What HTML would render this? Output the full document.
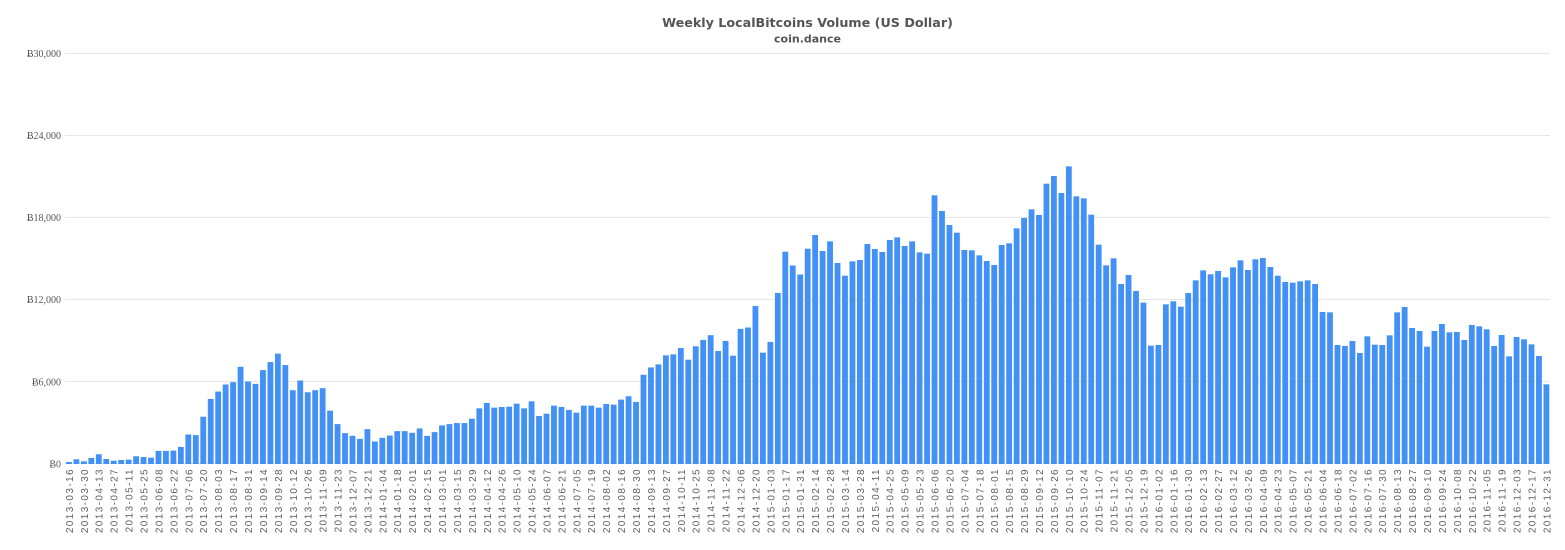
<!DOCTYPE html>
<html>
<head>
<meta charset="utf-8">
<style>
html,body{margin:0;padding:0;background:#fff;}
svg{display:block;}
.yl{font-family:"Liberation Serif","DejaVu Serif",serif;font-size:10px;fill:#555;}
.xl{font-family:"Liberation Sans","DejaVu Sans",sans-serif;font-size:10px;fill:#606060;letter-spacing:1.4px;}
</style>
</head>
<body>
<svg width="1565" height="550" viewBox="0 0 1565 550" xmlns="http://www.w3.org/2000/svg">
<rect width="1565" height="550" fill="#fff"/>
<text x="807.5" y="27" text-anchor="middle" font-family="DejaVu Sans, Verdana, sans-serif" font-weight="bold" font-size="12.7" fill="#555">Weekly LocalBitcoins Volume (US Dollar)</text>
<text x="807.5" y="42.3" text-anchor="middle" font-family="DejaVu Sans, Verdana, sans-serif" font-weight="bold" font-size="11" fill="#555">coin.dance</text>
<g stroke="#e6e6e6" stroke-width="1">
<line x1="65" y1="53.5" x2="1550" y2="53.5"/>
<line x1="65" y1="135.5" x2="1550" y2="135.5"/>
<line x1="65" y1="217.5" x2="1550" y2="217.5"/>
<line x1="65" y1="299.5" x2="1550" y2="299.5"/>
<line x1="65" y1="381.5" x2="1550" y2="381.5"/>
<line x1="65" y1="463.5" x2="1550" y2="463.5"/>
</g>
<g class="yl" text-anchor="end">
<text x="61" y="57">Ƀ30,000</text>
<text x="61" y="139">Ƀ24,000</text>
<text x="61" y="221">Ƀ18,000</text>
<text x="61" y="303">Ƀ12,000</text>
<text x="61" y="385.5">Ƀ6,000</text>
<text x="61" y="467.5">Ƀ0</text>
</g>
<g transform="translate(65.2,464) scale(7.462,-0.0137)" fill="#4391f4">
<rect x="0.11" width="0.78" height="147"/>
<rect x="1.11" width="0.78" height="343"/>
<rect x="2.11" width="0.78" height="196"/>
<rect x="3.11" width="0.78" height="441"/>
<rect x="4.11" width="0.78" height="710"/>
<rect x="5.11" width="0.78" height="367"/>
<rect x="6.11" width="0.78" height="245"/>
<rect x="7.11" width="0.78" height="294"/>
<rect x="8.11" width="0.78" height="318"/>
<rect x="9.11" width="0.78" height="563"/>
<rect x="10.11" width="0.78" height="514"/>
<rect x="11.11" width="0.78" height="465"/>
<rect x="12.11" width="0.78" height="955"/>
<rect x="13.11" width="0.78" height="955"/>
<rect x="14.11" width="0.78" height="979"/>
<rect x="15.11" width="0.78" height="1248"/>
<rect x="16.11" width="0.78" height="2154"/>
<rect x="17.11" width="0.78" height="2105"/>
<rect x="18.11" width="0.78" height="3452"/>
<rect x="19.11" width="0.78" height="4749"/>
<rect x="20.11" width="0.78" height="5288"/>
<rect x="21.11" width="0.78" height="5802"/>
<rect x="22.11" width="0.78" height="5973"/>
<rect x="23.11" width="0.78" height="7099"/>
<rect x="24.11" width="0.78" height="6022"/>
<rect x="25.11" width="0.78" height="5851"/>
<rect x="26.11" width="0.78" height="6854"/>
<rect x="27.11" width="0.78" height="7442"/>
<rect x="28.11" width="0.78" height="8054"/>
<rect x="29.11" width="0.78" height="7222"/>
<rect x="30.11" width="0.78" height="5386"/>
<rect x="31.11" width="0.78" height="6095"/>
<rect x="32.11" width="0.78" height="5239"/>
<rect x="33.11" width="0.78" height="5386"/>
<rect x="34.11" width="0.78" height="5533"/>
<rect x="35.11" width="0.78" height="3892"/>
<rect x="36.11" width="0.78" height="2913"/>
<rect x="37.11" width="0.78" height="2252"/>
<rect x="38.11" width="0.78" height="2056"/>
<rect x="39.11" width="0.78" height="1836"/>
<rect x="40.11" width="0.78" height="2546"/>
<rect x="41.11" width="0.78" height="1640"/>
<rect x="42.11" width="0.78" height="1909"/>
<rect x="43.11" width="0.78" height="2081"/>
<rect x="44.11" width="0.78" height="2399"/>
<rect x="45.11" width="0.78" height="2399"/>
<rect x="46.11" width="0.78" height="2277"/>
<rect x="47.11" width="0.78" height="2595"/>
<rect x="48.11" width="0.78" height="2056"/>
<rect x="49.11" width="0.78" height="2326"/>
<rect x="50.11" width="0.78" height="2815"/>
<rect x="51.11" width="0.78" height="2913"/>
<rect x="52.11" width="0.78" height="2987"/>
<rect x="53.11" width="0.78" height="2987"/>
<rect x="54.11" width="0.78" height="3305"/>
<rect x="55.11" width="0.78" height="4064"/>
<rect x="56.11" width="0.78" height="4455"/>
<rect x="57.11" width="0.78" height="4113"/>
<rect x="58.11" width="0.78" height="4162"/>
<rect x="59.11" width="0.78" height="4186"/>
<rect x="60.11" width="0.78" height="4406"/>
<rect x="61.11" width="0.78" height="4064"/>
<rect x="62.11" width="0.78" height="4578"/>
<rect x="63.11" width="0.78" height="3501"/>
<rect x="64.11" width="0.78" height="3672"/>
<rect x="65.11" width="0.78" height="4260"/>
<rect x="66.11" width="0.78" height="4162"/>
<rect x="67.11" width="0.78" height="3941"/>
<rect x="68.11" width="0.78" height="3745"/>
<rect x="69.11" width="0.78" height="4260"/>
<rect x="70.11" width="0.78" height="4260"/>
<rect x="71.11" width="0.78" height="4113"/>
<rect x="72.11" width="0.78" height="4382"/>
<rect x="73.11" width="0.78" height="4333"/>
<rect x="74.11" width="0.78" height="4700"/>
<rect x="75.11" width="0.78" height="4945"/>
<rect x="76.11" width="0.78" height="4529"/>
<rect x="77.11" width="0.78" height="6512"/>
<rect x="78.11" width="0.78" height="7050"/>
<rect x="79.11" width="0.78" height="7271"/>
<rect x="80.11" width="0.78" height="7932"/>
<rect x="81.11" width="0.78" height="8005"/>
<rect x="82.11" width="0.78" height="8470"/>
<rect x="83.11" width="0.78" height="7613"/>
<rect x="84.11" width="0.78" height="8592"/>
<rect x="85.11" width="0.78" height="9058"/>
<rect x="86.11" width="0.78" height="9400"/>
<rect x="87.11" width="0.78" height="8250"/>
<rect x="88.11" width="0.78" height="8984"/>
<rect x="89.11" width="0.78" height="7907"/>
<rect x="90.11" width="0.78" height="9865"/>
<rect x="91.11" width="0.78" height="9963"/>
<rect x="92.11" width="0.78" height="11530"/>
<rect x="93.11" width="0.78" height="8127"/>
<rect x="94.11" width="0.78" height="8911"/>
<rect x="95.11" width="0.78" height="12485"/>
<rect x="96.11" width="0.78" height="15496"/>
<rect x="97.11" width="0.78" height="14492"/>
<rect x="98.11" width="0.78" height="13831"/>
<rect x="99.11" width="0.78" height="15716"/>
<rect x="100.11" width="0.78" height="16714"/>
<rect x="101.11" width="0.78" height="15547"/>
<rect x="102.11" width="0.78" height="16252"/>
<rect x="103.11" width="0.78" height="14671"/>
<rect x="104.11" width="0.78" height="13746"/>
<rect x="105.11" width="0.78" height="14792"/>
<rect x="106.11" width="0.78" height="14890"/>
<rect x="107.11" width="0.78" height="16058"/>
<rect x="108.11" width="0.78" height="15693"/>
<rect x="109.11" width="0.78" height="15474"/>
<rect x="110.11" width="0.78" height="16350"/>
<rect x="111.11" width="0.78" height="16544"/>
<rect x="112.11" width="0.78" height="15912"/>
<rect x="113.11" width="0.78" height="16252"/>
<rect x="114.11" width="0.78" height="15450"/>
<rect x="115.11" width="0.78" height="15353"/>
<rect x="116.11" width="0.78" height="19610"/>
<rect x="117.11" width="0.78" height="18466"/>
<rect x="118.11" width="0.78" height="17445"/>
<rect x="119.11" width="0.78" height="16885"/>
<rect x="120.11" width="0.78" height="15620"/>
<rect x="121.11" width="0.78" height="15596"/>
<rect x="122.11" width="0.78" height="15231"/>
<rect x="123.11" width="0.78" height="14817"/>
<rect x="124.11" width="0.78" height="14525"/>
<rect x="125.11" width="0.78" height="15985"/>
<rect x="126.11" width="0.78" height="16107"/>
<rect x="127.11" width="0.78" height="17201"/>
<rect x="128.11" width="0.78" height="17956"/>
<rect x="129.11" width="0.78" height="18588"/>
<rect x="130.11" width="0.78" height="18174"/>
<rect x="131.11" width="0.78" height="20461"/>
<rect x="132.11" width="0.78" height="21021"/>
<rect x="133.11" width="0.78" height="19780"/>
<rect x="134.11" width="0.78" height="21727"/>
<rect x="135.11" width="0.78" height="19537"/>
<rect x="136.11" width="0.78" height="19391"/>
<rect x="137.11" width="0.78" height="18199"/>
<rect x="138.11" width="0.78" height="16009"/>
<rect x="139.11" width="0.78" height="14501"/>
<rect x="140.11" width="0.78" height="15012"/>
<rect x="141.11" width="0.78" height="13138"/>
<rect x="142.11" width="0.78" height="13795"/>
<rect x="143.11" width="0.78" height="12627"/>
<rect x="144.11" width="0.78" height="11776"/>
<rect x="145.11" width="0.78" height="8637"/>
<rect x="146.11" width="0.78" height="8686"/>
<rect x="147.11" width="0.78" height="11654"/>
<rect x="148.11" width="0.78" height="11873"/>
<rect x="149.11" width="0.78" height="11484"/>
<rect x="150.11" width="0.78" height="12481"/>
<rect x="151.11" width="0.78" height="13406"/>
<rect x="152.11" width="0.78" height="14136"/>
<rect x="153.11" width="0.78" height="13844"/>
<rect x="154.11" width="0.78" height="14087"/>
<rect x="155.11" width="0.78" height="13625"/>
<rect x="156.11" width="0.78" height="14355"/>
<rect x="157.11" width="0.78" height="14866"/>
<rect x="158.11" width="0.78" height="14160"/>
<rect x="159.11" width="0.78" height="14939"/>
<rect x="160.11" width="0.78" height="15036"/>
<rect x="161.11" width="0.78" height="14379"/>
<rect x="162.11" width="0.78" height="13746"/>
<rect x="163.11" width="0.78" height="13284"/>
<rect x="164.11" width="0.78" height="13236"/>
<rect x="165.11" width="0.78" height="13333"/>
<rect x="166.11" width="0.78" height="13406"/>
<rect x="167.11" width="0.78" height="13138"/>
<rect x="168.11" width="0.78" height="11094"/>
<rect x="169.11" width="0.78" height="11070"/>
<rect x="170.11" width="0.78" height="8686"/>
<rect x="171.11" width="0.78" height="8613"/>
<rect x="172.11" width="0.78" height="8978"/>
<rect x="173.11" width="0.78" height="8102"/>
<rect x="174.11" width="0.78" height="9318"/>
<rect x="175.11" width="0.78" height="8710"/>
<rect x="176.11" width="0.78" height="8686"/>
<rect x="177.11" width="0.78" height="9391"/>
<rect x="178.11" width="0.78" height="11070"/>
<rect x="179.11" width="0.78" height="11460"/>
<rect x="180.11" width="0.78" height="9927"/>
<rect x="181.11" width="0.78" height="9708"/>
<rect x="182.11" width="0.78" height="8564"/>
<rect x="183.11" width="0.78" height="9708"/>
<rect x="184.11" width="0.78" height="10219"/>
<rect x="185.11" width="0.78" height="9611"/>
<rect x="186.11" width="0.78" height="9635"/>
<rect x="187.11" width="0.78" height="9051"/>
<rect x="188.11" width="0.78" height="10146"/>
<rect x="189.11" width="0.78" height="10048"/>
<rect x="190.11" width="0.78" height="9829"/>
<rect x="191.11" width="0.78" height="8613"/>
<rect x="192.11" width="0.78" height="9416"/>
<rect x="193.11" width="0.78" height="7859"/>
<rect x="194.11" width="0.78" height="9270"/>
<rect x="195.11" width="0.78" height="9100"/>
<rect x="196.11" width="0.78" height="8735"/>
<rect x="197.11" width="0.78" height="7883"/>
<rect x="198.11" width="0.78" height="5815"/>
</g>
<g class="xl" transform="rotate(-90)" text-anchor="end">
<text x="-468" y="72.9">2013-03-16</text>
<text x="-468" y="87.8">2013-03-30</text>
<text x="-468" y="102.7">2013-04-13</text>
<text x="-468" y="117.7">2013-04-27</text>
<text x="-468" y="132.6">2013-05-11</text>
<text x="-468" y="147.5">2013-05-25</text>
<text x="-468" y="162.4">2013-06-08</text>
<text x="-468" y="177.4">2013-06-22</text>
<text x="-468" y="192.3">2013-07-06</text>
<text x="-468" y="207.2">2013-07-20</text>
<text x="-468" y="222.1">2013-08-03</text>
<text x="-468" y="237.1">2013-08-17</text>
<text x="-468" y="252.0">2013-08-31</text>
<text x="-468" y="266.9">2013-09-14</text>
<text x="-468" y="281.8">2013-09-28</text>
<text x="-468" y="296.8">2013-10-12</text>
<text x="-468" y="311.7">2013-10-26</text>
<text x="-468" y="326.6">2013-11-09</text>
<text x="-468" y="341.5">2013-11-23</text>
<text x="-468" y="356.5">2013-12-07</text>
<text x="-468" y="371.4">2013-12-21</text>
<text x="-468" y="386.3">2014-01-04</text>
<text x="-468" y="401.2">2014-01-18</text>
<text x="-468" y="416.2">2014-02-01</text>
<text x="-468" y="431.1">2014-02-15</text>
<text x="-468" y="446.0">2014-03-01</text>
<text x="-468" y="460.9">2014-03-15</text>
<text x="-468" y="475.8">2014-03-29</text>
<text x="-468" y="490.8">2014-04-12</text>
<text x="-468" y="505.7">2014-04-26</text>
<text x="-468" y="520.6">2014-05-10</text>
<text x="-468" y="535.5">2014-05-24</text>
<text x="-468" y="550.5">2014-06-07</text>
<text x="-468" y="565.4">2014-06-21</text>
<text x="-468" y="580.3">2014-07-05</text>
<text x="-468" y="595.2">2014-07-19</text>
<text x="-468" y="610.2">2014-08-02</text>
<text x="-468" y="625.1">2014-08-16</text>
<text x="-468" y="640.0">2014-08-30</text>
<text x="-468" y="654.9">2014-09-13</text>
<text x="-468" y="669.9">2014-09-27</text>
<text x="-468" y="684.8">2014-10-11</text>
<text x="-468" y="699.7">2014-10-25</text>
<text x="-468" y="714.6">2014-11-08</text>
<text x="-468" y="729.6">2014-11-22</text>
<text x="-468" y="744.5">2014-12-06</text>
<text x="-468" y="759.4">2014-12-20</text>
<text x="-468" y="774.3">2015-01-03</text>
<text x="-468" y="789.3">2015-01-17</text>
<text x="-468" y="804.2">2015-01-31</text>
<text x="-468" y="819.1">2015-02-14</text>
<text x="-468" y="834.0">2015-02-28</text>
<text x="-468" y="848.9">2015-03-14</text>
<text x="-468" y="863.9">2015-03-28</text>
<text x="-468" y="878.8">2015-04-11</text>
<text x="-468" y="893.7">2015-04-25</text>
<text x="-468" y="908.6">2015-05-09</text>
<text x="-468" y="923.6">2015-05-23</text>
<text x="-468" y="938.5">2015-06-06</text>
<text x="-468" y="953.4">2015-06-20</text>
<text x="-468" y="968.3">2015-07-04</text>
<text x="-468" y="983.3">2015-07-18</text>
<text x="-468" y="998.2">2015-08-01</text>
<text x="-468" y="1013.1">2015-08-15</text>
<text x="-468" y="1028.0">2015-08-29</text>
<text x="-468" y="1043.0">2015-09-12</text>
<text x="-468" y="1057.9">2015-09-26</text>
<text x="-468" y="1072.8">2015-10-10</text>
<text x="-468" y="1087.7">2015-10-24</text>
<text x="-468" y="1102.7">2015-11-07</text>
<text x="-468" y="1117.6">2015-11-21</text>
<text x="-468" y="1132.5">2015-12-05</text>
<text x="-468" y="1147.4">2015-12-19</text>
<text x="-468" y="1162.4">2016-01-02</text>
<text x="-468" y="1177.3">2016-01-16</text>
<text x="-468" y="1192.2">2016-01-30</text>
<text x="-468" y="1207.1">2016-02-13</text>
<text x="-468" y="1222.0">2016-02-27</text>
<text x="-468" y="1237.0">2016-03-12</text>
<text x="-468" y="1251.9">2016-03-26</text>
<text x="-468" y="1266.8">2016-04-09</text>
<text x="-468" y="1281.7">2016-04-23</text>
<text x="-468" y="1296.7">2016-05-07</text>
<text x="-468" y="1311.6">2016-05-21</text>
<text x="-468" y="1326.5">2016-06-04</text>
<text x="-468" y="1341.4">2016-06-18</text>
<text x="-468" y="1356.4">2016-07-02</text>
<text x="-468" y="1371.3">2016-07-16</text>
<text x="-468" y="1386.2">2016-07-30</text>
<text x="-468" y="1401.1">2016-08-13</text>
<text x="-468" y="1416.1">2016-08-27</text>
<text x="-468" y="1431.0">2016-09-10</text>
<text x="-468" y="1445.9">2016-09-24</text>
<text x="-468" y="1460.8">2016-10-08</text>
<text x="-468" y="1475.8">2016-10-22</text>
<text x="-468" y="1490.7">2016-11-05</text>
<text x="-468" y="1505.6">2016-11-19</text>
<text x="-468" y="1520.5">2016-12-03</text>
<text x="-468" y="1535.5">2016-12-17</text>
<text x="-468" y="1550.4">2016-12-31</text>
</g>
</svg>
</body>
</html>
